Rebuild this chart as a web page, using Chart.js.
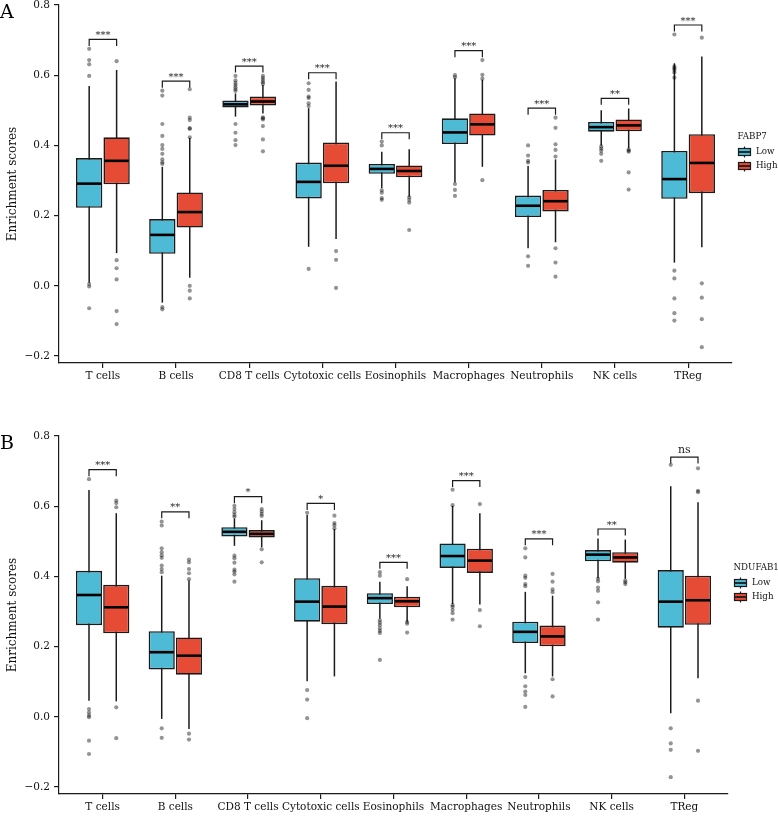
<!DOCTYPE html>
<html>
<head>
<meta charset="utf-8">
<script src="https://cdn.jsdelivr.net/npm/chart.js@4.4.0/dist/chart.umd.min.js"></script>
<style>
  body { margin: 0; background: #fff; }
  #wrap { position: relative; width: 778px; height: 816px; }
  canvas { position: absolute; left: 0; }
</style>
</head>
<body>
<div id="wrap">
  <canvas id="chartA" width="778" height="385" style="top:0px"></canvas>
  <canvas id="chartB" width="778" height="385" style="top:431px"></canvas>
</div>
<script>
// categories on the x axis
const cellTypes = ['T cells', 'B cells', 'CD8 T cells', 'Cytotoxic cells', 'Eosinophils',
  'Macrophages', 'Neutrophils', 'NK cells', 'TReg'];
const groupNames = ['Low', 'High'];
const yTickValues = [-0.2, 0, 0.2, 0.4, 0.6, 0.8];

// box summaries: [lower whisker, Q1, median, Q3, upper whisker]
const fabp7Low = [
  [0.009, 0.222, 0.291, 0.364, 0.569], [-0.048, 0.091, 0.145, 0.190, 0.339],
  [0.482, 0.508, 0.517, 0.528, 0.548], [0.111, 0.249, 0.296, 0.351, 0.506],
  [0.278, 0.319, 0.333, 0.347, 0.382], [0.294, 0.404, 0.437, 0.477, 0.591],
  [0.107, 0.196, 0.228, 0.257, 0.341], [0.400, 0.439, 0.452, 0.467, 0.500],
  [0.066, 0.248, 0.304, 0.384, 0.634]
];
const fabp7High = [
  [0.093, 0.289, 0.356, 0.423, 0.615], [0.023, 0.166, 0.210, 0.266, 0.421],
  [0.491, 0.514, 0.525, 0.539, 0.572], [0.133, 0.292, 0.342, 0.408, 0.582],
  [0.254, 0.309, 0.327, 0.343, 0.389], [0.339, 0.428, 0.460, 0.491, 0.587],
  [0.124, 0.212, 0.241, 0.273, 0.360], [0.392, 0.440, 0.457, 0.474, 0.505],
  [0.110, 0.264, 0.350, 0.432, 0.653]
];
const fabp7LowOutliers = [
  [0.675, 0.643, 0.631, 0.598, 0.005, -0.002, -0.064],
  [0.556, 0.542, 0.461, 0.427, 0.401, 0.390, 0.376, 0.360, 0.352, 0.347, -0.061, -0.067],
  [0.598, 0.585, 0.578, 0.572, 0.566, 0.560, 0.555, 0.461, 0.436, 0.415, 0.401],
  [0.577, 0.558, 0.539, 0.535, 0.520, 0.512, 0.048],
  [0.411, 0.400, 0.272, 0.265, 0.250, 0.245],
  [0.600, 0.594, 0.290, 0.273, 0.256],
  [0.400, 0.371, 0.356, 0.351, 0.084, 0.057],
  [0.397, 0.391, 0.385, 0.376, 0.356],
  [0.716, 0.625, 0.620, 0.615, 0.608, 0.593, 0.043, 0.021, -0.036, -0.078, -0.099]
];
const fabp7HighOutliers = [
  [0.640, 0.073, 0.050, 0.018, -0.072, -0.109],
  [0.560, 0.479, 0.472, 0.449, 0.447, 0.423, -0.000, -0.014, -0.036],
  [0.598, 0.592, 0.586, 0.580, 0.575, 0.480, 0.477, 0.474, 0.455, 0.417, 0.383],
  [0.099, 0.074, -0.006],
  [0.252, 0.245, 0.237, 0.159],
  [0.643, 0.601, 0.590, 0.301],
  [0.479, 0.450, 0.403, 0.387, 0.368, 0.107, 0.066, 0.026],
  [0.388, 0.385, 0.382, 0.323, 0.274],
  [0.707, 0.007, -0.034, -0.095, -0.175]
];
const fabp7SigY = [0.702, 0.583, 0.626, 0.607, 0.436, 0.670, 0.506, 0.534, 0.743];
const fabp7SigLabels = ['***', '***', '***', '***', '***', '***', '***', '**', '***'];

const ndufab1Low = [
  [0.046, 0.261, 0.347, 0.416, 0.646], [-0.006, 0.135, 0.184, 0.244, 0.402],
  [0.487, 0.514, 0.527, 0.540, 0.565], [0.101, 0.271, 0.328, 0.395, 0.575],
  [0.279, 0.321, 0.338, 0.352, 0.385], [0.321, 0.424, 0.458, 0.494, 0.601],
  [0.124, 0.210, 0.242, 0.271, 0.356], [0.395, 0.443, 0.462, 0.475, 0.508],
  [0.010, 0.254, 0.328, 0.418, 0.657]
];
const ndufab1High = [
  [0.044, 0.238, 0.312, 0.376, 0.580], [-0.035, 0.120, 0.174, 0.226, 0.388],
  [0.483, 0.511, 0.521, 0.532, 0.560], [0.115, 0.264, 0.314, 0.373, 0.535],
  [0.271, 0.312, 0.329, 0.342, 0.372], [0.320, 0.410, 0.445, 0.479, 0.580],
  [0.115, 0.201, 0.229, 0.260, 0.345], [0.393, 0.439, 0.454, 0.469, 0.505],
  [0.110, 0.262, 0.332, 0.402, 0.611]
];
const ndufab1LowOutliers = [
  [0.677, 0.022, 0.012, 0.004, -0.001, -0.068, -0.106],
  [0.556, 0.545, 0.480, 0.469, 0.460, 0.453, 0.431, 0.421, 0.412, -0.033, -0.060],
  [0.601, 0.592, 0.583, 0.575, 0.570, 0.459, 0.452, 0.439, 0.419, 0.414, 0.406, 0.385],
  [0.581, 0.076, 0.049, -0.004],
  [0.412, 0.402, 0.275, 0.268, 0.261, 0.252, 0.245, 0.239, 0.162],
  [0.647, 0.603, 0.318, 0.313, 0.304, 0.295, 0.277],
  [0.480, 0.454, 0.402, 0.396, 0.378, 0.372, 0.113, 0.087, 0.072, 0.062, 0.028],
  [0.393, 0.386, 0.368, 0.359, 0.326, 0.277],
  [0.718, -0.033, -0.076, -0.094, -0.172]
];
const ndufab1HighOutliers = [
  [0.616, 0.609, 0.597, 0.027, -0.061],
  [0.448, 0.440, 0.421, 0.409, 0.392, -0.048, -0.065],
  [0.592, 0.585, 0.578, 0.572, 0.477, 0.440],
  [0.573, 0.552, 0.546, 0.537],
  [0.392, 0.270, 0.265, 0.240],
  [0.606, 0.304, 0.258],
  [0.407, 0.385, 0.363, 0.355, 0.107, 0.058],
  [0.388, 0.383, 0.378],
  [0.708, 0.644, 0.640, 0.046, -0.097]
];
const ndufab1SigY = [0.704, 0.584, 0.627, 0.608, 0.440, 0.673, 0.507, 0.535, 0.740];
const ndufab1SigLabels = ['***', '**', '*', '*', '***', '***', '***', '**', 'ns'];

const FONT = '"DejaVu Serif", serif';
const COLORS = ['#4DBBD5', '#E64B35'];
const INK = '#1b1b1b';
const DODGE = 0.75;

Chart.defaults.font.family = FONT;

// whiskers, medians, brackets, legend and panel tag
const boxplotExtras = {
  id: 'boxplotExtras',
  beforeDatasetsDraw(chart, args, opts) {
    const { ctx } = chart;
    const y = chart.scales.y;
    ctx.save();
    ctx.strokeStyle = INK;
    ctx.lineWidth = 1.5;
    opts.summaries.forEach((summary, d) => {
      chart.getDatasetMeta(d).data.forEach((bar, i) => {
        ctx.beginPath();
        ctx.moveTo(bar.x, y.getPixelForValue(summary[i][0]));
        ctx.lineTo(bar.x, y.getPixelForValue(summary[i][4]));
        ctx.stroke();
      });
    });
    ctx.restore();
  },
  afterDatasetsDraw(chart, args, opts) {
    const { ctx } = chart;
    const y = chart.scales.y;
    ctx.save();
    // medians
    ctx.strokeStyle = '#000';
    ctx.lineWidth = 2.6;
    opts.summaries.forEach((summary, d) => {
      chart.getDatasetMeta(d).data.forEach((bar, i) => {
        const py = y.getPixelForValue(summary[i][2]);
        ctx.beginPath();
        ctx.moveTo(bar.x - bar.width / 2 + 1, py);
        ctx.lineTo(bar.x + bar.width / 2 - 1, py);
        ctx.stroke();
      });
    });
    // significance brackets
    const lowBars = chart.getDatasetMeta(0).data;
    const highBars = chart.getDatasetMeta(1).data;
    ctx.lineWidth = 1.2;
    ctx.strokeStyle = INK;
    ctx.fillStyle = INK;
    ctx.textAlign = 'center';
    ctx.textBaseline = 'alphabetic';
    opts.sigY.forEach((v, i) => {
      const py = y.getPixelForValue(v);
      const x0 = lowBars[i].x, x1 = highBars[i].x;
      ctx.beginPath();
      ctx.moveTo(x0, py + 6.5);
      ctx.lineTo(x0, py);
      ctx.lineTo(x1, py);
      ctx.lineTo(x1, py + 6.5);
      ctx.stroke();
      const label = opts.sigLabels[i];
      if (label === 'ns') {
        ctx.font = '11px ' + FONT;
        ctx.fillText(label, (x0 + x1) / 2, py - 4.5);
      } else {
        ctx.font = '10px ' + FONT;
        ctx.fillText(label, (x0 + x1) / 2, py - 1.5);
      }
    });
    ctx.restore();
  },
  afterDraw(chart, args, opts) {
    const { ctx, chartArea } = chart;
    ctx.save();
    // panel tag
    ctx.fillStyle = '#000';
    ctx.font = '19px ' + FONT;
    ctx.textAlign = 'left';
    ctx.textBaseline = 'alphabetic';
    ctx.fillText(opts.tag, 0, 17.5);
    // legend
    const lx = chartArea.right + 5.5;
    ctx.font = '8.7px ' + FONT;
    ctx.textBaseline = 'middle';
    ctx.fillStyle = '#111';
    ctx.fillText(opts.legendTitle, lx, 137);
    groupNames.forEach((name, k) => {
      const cy = 152 + k * 14;
      ctx.strokeStyle = INK;
      ctx.lineWidth = 1.2;
      ctx.beginPath();
      ctx.moveTo(lx + 7, cy - 5.5);
      ctx.lineTo(lx + 7, cy + 5.5);
      ctx.stroke();
      ctx.fillStyle = COLORS[k];
      ctx.fillRect(lx + 1, cy - 3.5, 12, 7);
      ctx.strokeRect(lx + 1, cy - 3.5, 12, 7);
      ctx.lineWidth = 1.8;
      ctx.beginPath();
      ctx.moveTo(lx + 1, cy);
      ctx.lineTo(lx + 13, cy);
      ctx.stroke();
      ctx.fillStyle = '#111';
      ctx.fillText(name, lx + 18.5, cy);
    });
    ctx.restore();
  }
};

const outlierPoints = (lists, shift) =>
  lists.flatMap((vals, i) => vals.map(v => ({ x: i + 1 + shift, y: v })));

const makePanel = (canvasId, low, high, lowOut, highOut, sigY, sigLabels, tag, legendTitle, rightPad) => {
  const ctx = document.getElementById(canvasId).getContext('2d');
  const boxData = summary => summary.map((s, i) => ({ x: i + 1, y: [s[1], s[3]] }));
  const shift = DODGE / 4;
  return new Chart(ctx, {
    type: 'bar',
    data: {
      datasets: [
        {
          label: groupNames[0], data: boxData(low), backgroundColor: COLORS[0],
          borderColor: INK, borderWidth: 1.6, borderSkipped: false,
          categoryPercentage: DODGE, barPercentage: 0.96, order: 2
        },
        {
          label: groupNames[1], data: boxData(high), backgroundColor: COLORS[1],
          borderColor: INK, borderWidth: 1.6, borderSkipped: false,
          categoryPercentage: DODGE, barPercentage: 0.96, order: 2
        },
        {
          type: 'scatter', label: 'low outliers', data: outlierPoints(lowOut, -shift),
          pointRadius: 2.1, pointBackgroundColor: 'rgba(0,0,0,0.42)', pointBorderWidth: 0, order: 1
        },
        {
          type: 'scatter', label: 'high outliers', data: outlierPoints(highOut, shift),
          pointRadius: 2.1, pointBackgroundColor: 'rgba(0,0,0,0.42)', pointBorderWidth: 0, order: 1
        }
      ]
    },
    options: {
      responsive: false,
      animation: false,
      devicePixelRatio: 1,
      layout: { padding: { top: 5, left: 0, right: rightPad, bottom: 0 } },
      plugins: {
        legend: { display: false },
        tooltip: { enabled: false },
        boxplotExtras: { summaries: [low, high], sigY, sigLabels, tag, legendTitle }
      },
      scales: {
        x: {
          type: 'linear',
          min: 0.4,
          max: 9.6,
          offset: false,
          afterBuildTicks: scale => { scale.ticks = cellTypes.map((c, i) => ({ value: i + 1 })); },
          afterFit: scale => { scale.height = 22; scale.paddingLeft = 0; scale.paddingRight = 0; },
          grid: { display: true, drawOnChartArea: false, drawTicks: true, tickLength: 5, color: INK, offset: false, lineWidth: 1.2 },
          border: { display: true, color: INK, width: 1.2 },
          ticks: {
            autoSkip: false, maxRotation: 0, padding: 2,
            color: '#111', font: { size: 10.5 },
            callback: v => cellTypes[Math.round(v) - 1] || ''
          }
        },
        y: {
          min: -0.22,
          max: 0.8,
          afterBuildTicks: scale => { scale.ticks = yTickValues.map(v => ({ value: v })); },
          afterFit: scale => { scale.width = 59; scale.paddingTop = 0; scale.paddingBottom = 0; },
          grid: { display: true, drawOnChartArea: false, drawTicks: true, tickLength: 5, color: INK, lineWidth: 1.2 },
          border: { display: true, color: INK, width: 1.2 },
          ticks: {
            padding: 4, color: '#111', font: { size: 10.5 },
            callback: v => (v < -1e-9 ? '\u2212' + Math.abs(v).toFixed(1) : Math.abs(v).toFixed(1))
          },
          title: {
            display: true, text: 'Enrichment scores', color: '#111',
            font: { size: 12 }, padding: { top: 6, bottom: 0 }
          }
        }
      }
    },
    plugins: [boxplotExtras]
  });
};

makePanel('chartA', fabp7Low, fabp7High, fabp7LowOutliers, fabp7HighOutliers,
  fabp7SigY, fabp7SigLabels, 'A', 'FABP7', 46);
makePanel('chartB', ndufab1Low, ndufab1High, ndufab1LowOutliers, ndufab1HighOutliers,
  ndufab1SigY, ndufab1SigLabels, 'B', 'NDUFAB1', 50);
</script>
</body>
</html>
